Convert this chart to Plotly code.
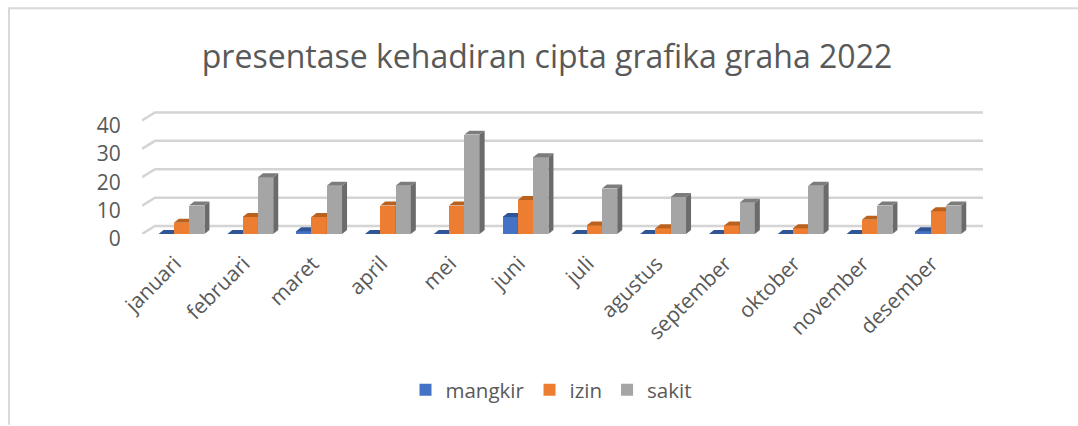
import plotly.graph_objects as go

months = ["januari","februari","maret","april","mei","juni","juli","agustus","september","oktober","november","desember"]
mangkir = [0,0,1,0,0,6,0,0,0,0,0,1]
izin = [4,6,6,10,10,12,3,2,3,2,5,8]
sakit = [10,20,17,17,35,27,16,13,11,17,10,10]
y_ticks = [0,10,20,30,40]
series = [
    ("mangkir", mangkir, "#4472C4", "#2F5597", "#2F5597"),
    ("izin", izin, "#ED7D31", "#B9611F", "#B9611F"),
    ("sakit", sakit, "#A5A5A5", "#7C7C7C", "#6B6B6B"),
]

PX_X = 68.8
PX_Y = 2.85
X0, X1, Y0 = 142, 983, 234.5
YTOP = 100
xr = [0, (X1 - X0) / PX_X]
yr = [0, (Y0 - YTOP) / PX_Y]
BAR = 15.3 / PX_X
DX, DY = 5 / PX_X, 4 / PX_Y
GDX, GDY = 13 / PX_X, 8 / PX_Y
CENTER = 0.574

fig = go.Figure()

for v in y_ticks:
    fig.add_trace(go.Scatter(
        x=[0, GDX, xr[1]], y=[v, v + GDY, v + GDY], mode="lines",
        line=dict(color="#D4D4D4", width=2.5), showlegend=False, hoverinfo="skip",
        xaxis="x", yaxis="y"))

for k, (name, vals, col, top, side) in enumerate(series):
    ax = str(k + 2)
    xs = [i + CENTER + (k - 1) * BAR for i in range(len(vals))]
    fig.add_trace(go.Bar(x=xs, y=vals, width=BAR, name=name, marker=dict(color=col, line=dict(width=0)),
                         xaxis="x" + ax, yaxis="y" + ax))
    tx, ty, sx, sy = [], [], [], []
    for x, v in zip(xs, vals):
        l, r = x - BAR / 2, x + BAR / 2
        tx += [l, r, r + DX, l + DX, l, None]
        ty += [v, v, v + DY, v + DY, v, None]
        sx += [r, r + DX, r + DX, r, r, None]
        sy += [0, DY, v + DY, v, 0, None]
    fig.add_trace(go.Scatter(x=tx, y=ty, mode="lines", fill="toself", fillcolor=top, line=dict(width=0, color=top),
                             showlegend=False, hoverinfo="skip", xaxis="x" + ax, yaxis="y" + ax))
    fig.add_trace(go.Scatter(x=sx, y=sy, mode="lines", fill="toself", fillcolor=side, line=dict(width=0, color=side),
                             showlegend=False, hoverinfo="skip", xaxis="x" + ax, yaxis="y" + ax))

FONT = "Open Sans"
TXT = "#595959"
PH = Y0 - YTOP
layout_axes = {}
for k in (2, 3, 4):
    layout_axes[f"xaxis{k}"] = dict(range=xr, overlaying="x", visible=False, fixedrange=True)
    layout_axes[f"yaxis{k}"] = dict(range=yr, overlaying="y", visible=False, fixedrange=True)

fig.update_layout(
    width=1078, height=426, autosize=False, paper_bgcolor="white", plot_bgcolor="rgba(0,0,0,0)",
    margin=dict(l=X0, r=1078 - X1, t=YTOP, b=426 - Y0, pad=0),
    barmode="overlay", bargap=0,
    font=dict(family=FONT, color=TXT),
    title=dict(text="presentase kehadiran cipta grafika graha 2022", x=547 / 1078, xanchor="center",
               y=1 - 57 / 426, yanchor="middle", font=dict(size=32, family=FONT, color=TXT)),
    xaxis=dict(range=xr, tickmode="array", tickvals=[i + 0.48 for i in range(12)], ticktext=months,
               tickangle=-45, tickfont=dict(size=21, family=FONT, color=TXT), showgrid=False, zeroline=False,
               showline=False, ticks="outside", ticklen=8, tickcolor="rgba(0,0,0,0)", fixedrange=True),
    yaxis=dict(range=yr, tickmode="array", tickvals=y_ticks, tickfont=dict(size=21, family=FONT, color=TXT),
               showgrid=False, zeroline=False, showline=False, ticks="outside", ticklen=16, ticklabelshift=5,
               tickcolor="rgba(0,0,0,0)", fixedrange=True),
    legend=dict(orientation="h", x=(551 - X0) / (X1 - X0), xanchor="center", y=(Y0 - 391) / PH, yanchor="middle",
                font=dict(size=20.5, family=FONT, color=TXT), bgcolor="rgba(0,0,0,0)"),
    shapes=[
        dict(type="line", xref="paper", yref="paper", x0=(8 - X0) / 841, x1=(1078 - X0) / 841,
             y0=(Y0 - 8) / PH, y1=(Y0 - 8) / PH, line=dict(color="#D9D9D9", width=2)),
        dict(type="line", xref="paper", yref="paper", x0=(9 - X0) / 841, x1=(9 - X0) / 841,
             y0=(Y0 - 426) / PH, y1=(Y0 - 8) / PH, line=dict(color="#D9D9D9", width=2)),
    ],
    **layout_axes,
)
fig.write_html("out.html", config={"displayModeBar": False},
               post_script="document.body.style.margin='0';document.body.style.overflow='hidden';")
